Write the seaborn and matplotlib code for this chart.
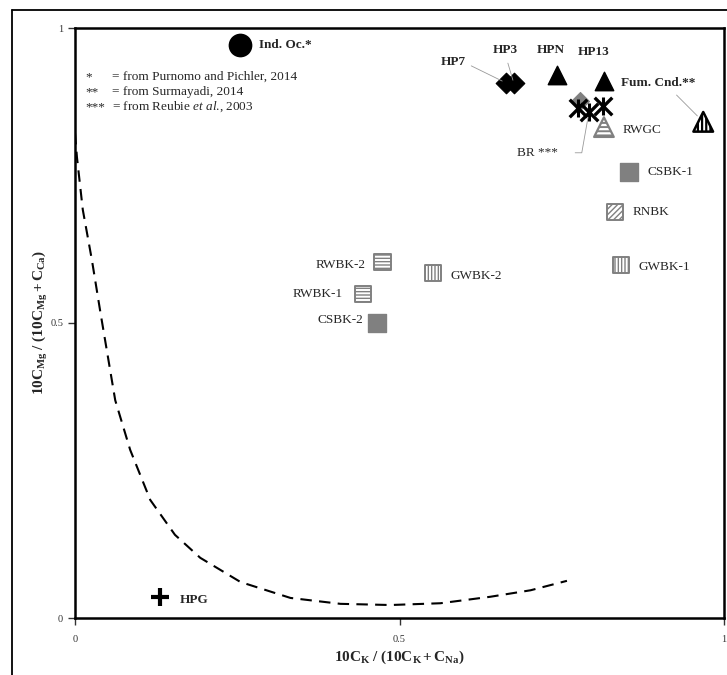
import matplotlib
matplotlib.use("Agg")
import matplotlib.pyplot as plt
import seaborn as sns
import pandas as pd
from matplotlib.lines import Line2D

# ---------------- data ----------------
# samples: name, 10CK/(10CK+CNa), 10CMg/(10CMg+CCa)
ind_oc_x, ind_oc_y = [0.255], [0.971]
hp_diamond_names = ["HP7", "HP3"]
hp_diamond_x = [0.664, 0.676]
hp_diamond_y = [0.907, 0.907]
hp_tri_names = ["HPN", "HP13"]
hp_tri_x = [0.742, 0.815]
hp_tri_y = [0.920, 0.910]
fum_x, fum_y = [0.968], [0.841]
gray_dia_x, gray_dia_y = [0.778], [0.876]
br_x = [0.775, 0.792, 0.813]
br_y = [0.864, 0.858, 0.867]
rwgc_x, rwgc_y = [0.815], [0.832]
csbk_names = ["CSBK-1", "CSBK-2"]
csbk_x = [0.853, 0.466]
csbk_y = [0.756, 0.500]
rnbk_x, rnbk_y = [0.832], [0.688]
gwbk_names = ["GWBK-1", "GWBK-2"]
gwbk_x = [0.841, 0.552]
gwbk_y = [0.598, 0.585]
rwbk_names = ["RWBK-2", "RWBK-1"]
rwbk_x = [0.474, 0.444]
rwbk_y = [0.603, 0.549]
hpg_x, hpg_y = [0.131], [0.036]

# dashed equilibrium curve
curve_x = [0.0, 0.003, 0.012, 0.026, 0.039, 0.062, 0.085, 0.116, 0.154, 0.193,
           0.255, 0.332, 0.409, 0.486, 0.563, 0.640, 0.702, 0.758]
curve_y = [0.822, 0.781, 0.692, 0.607, 0.519, 0.369, 0.285, 0.200, 0.141, 0.102,
           0.061, 0.034, 0.024, 0.022, 0.025, 0.036, 0.047, 0.063]

ticks = [0, 0.5, 1]
tick_labels = ["0", "0.5", "1"]
refs = [("*", "= from Purnomo and Pichler, 2014"),
        ("**", "= from Surmayadi, 2014"),
        ("***", r"= from Reubie $\mathit{et\ al}$., 2003")]

# ---------------- style ----------------
sns.set_style("ticks")
plt.rcParams["font.family"] = ["Liberation Serif", "DejaVu Serif"]
plt.rcParams["mathtext.fontset"] = "custom"
plt.rcParams["mathtext.rm"] = "Liberation Serif"
plt.rcParams["mathtext.it"] = "Liberation Serif:italic"
plt.rcParams["mathtext.bf"] = "Liberation Serif:bold"
plt.rcParams["hatch.linewidth"] = 1.0

W, H = 727, 675
fig = plt.figure(figsize=(W / 100, H / 100), dpi=100)
L, R, T, B = 75, 724, 28, 618
ax = fig.add_axes([L / W, 1 - B / H, (R - L) / W, (B - T) / H])
ax.set_xlim(0, 1)
ax.set_ylim(0, 1)

GRAY = "#808080"

# curve
sns.lineplot(x=curve_x, y=curve_y, sort=False, estimator=None, ax=ax,
             color="black", lw=1.5, linestyle=(0, (5.5, 3.5)))

def sc(x, y, **kw):
    sns.scatterplot(x=x, y=y, ax=ax, legend=False, zorder=3, **kw)

sc(ind_oc_x, ind_oc_y, marker="o", s=250, color="black", edgecolor="black")
sc(hp_diamond_x, hp_diamond_y, marker="D", s=110, color="black", edgecolor="black")
sc(hp_tri_x, hp_tri_y, marker="^", s=175, color="black", edgecolor="black")
plt.rcParams["hatch.linewidth"] = 1.6
sc(fum_x, fum_y, marker="^", s=200, color="white", edgecolor="black",
   linewidth=1.8, hatch="||||")
plt.rcParams["hatch.linewidth"] = 1.0
sc(gray_dia_x, gray_dia_y, marker="D", s=85, color=GRAY, edgecolor=GRAY)
sc(br_x, br_y, marker="x", s=160, color="black", linewidth=2.4)
sc(br_x, br_y, marker="|", s=160, color="black", linewidth=2.2)
plt.rcParams["hatch.linewidth"] = 1.4
sc(rwgc_x, rwgc_y, marker="^", s=200, color="white", edgecolor=GRAY,
   linewidth=1.6, hatch="----")
plt.rcParams["hatch.linewidth"] = 1.0
sc(csbk_x, csbk_y, marker="s", s=150, color=GRAY, edgecolor=GRAY)
sc(rnbk_x, rnbk_y, marker="s", s=140, color="white", edgecolor=GRAY,
   linewidth=1.4, hatch="//////")
sc(gwbk_x, gwbk_y, marker="s", s=140, color="white", edgecolor=GRAY,
   linewidth=1.4, hatch="|||||")
sc(rwbk_x, rwbk_y, marker="s", s=140, color="white", edgecolor=GRAY,
   linewidth=1.4, hatch="-----")
sc(hpg_x, hpg_y, marker="+", s=180, color="black", linewidth=3)

FS = 9.5
P = 0.72  # px -> points

def lab(text, xy, dx, dy, ha="left", bold=False, line=None, conn=None):
    ap = None
    if line is not None:
        ap = dict(arrowstyle="-", color="#999999", lw=0.6, shrinkA=line[0],
                  shrinkB=line[1], relpos=line[2])
        if conn:
            ap["connectionstyle"] = conn
    ax.annotate(text, xy=xy, xytext=(dx * P, -dy * P), textcoords="offset points",
                ha=ha, va="center", fontsize=FS,
                fontweight="bold" if bold else "normal", arrowprops=ap, zorder=4)

lab("Ind. Oc.*", (ind_oc_x[0], ind_oc_y[0]), 19, 0, bold=True)
lab(hp_diamond_names[0], (hp_diamond_x[0], hp_diamond_y[0]), -53, -21, ha="center",
    bold=True, line=(2, 3, (1.1, 0.3)))
lab(hp_diamond_names[1], (hp_diamond_x[1], hp_diamond_y[1]), -8, -33, ha="center",
    bold=True, line=(3, 2, (0.5, 0)))
lab(hp_tri_names[0], (hp_tri_x[0], hp_tri_y[0]), -6, -25, ha="center", bold=True)
lab(hp_tri_names[1], (hp_tri_x[1], hp_tri_y[1]), -10, -29, ha="center", bold=True)
lab("Fum. Cnd.**", (fum_x[0], fum_y[0]), -82, -39, bold=True,
    line=(3, 6, (0.66, 0)))
lab("RWGC", (rwgc_x[0], rwgc_y[0]), 19, 3)
lab("BR ***", (br_x[1], br_y[1]), -31, 41, ha="right", line=(10, 4, (1, 0.5)),
    conn="angle,angleA=0,angleB=80,rad=0")
lab(csbk_names[0], (csbk_x[0], csbk_y[0]), 19, 0)
lab(csbk_names[1], (csbk_x[1], csbk_y[1]), -14, -3, ha="right")
lab("RNBK", (rnbk_x[0], rnbk_y[0]), 18, 0)
lab(gwbk_names[0], (gwbk_x[0], gwbk_y[0]), 18, 2)
lab(gwbk_names[1], (gwbk_x[1], gwbk_y[1]), 17, 3)
lab(rwbk_names[0], (rwbk_x[0], rwbk_y[0]), -17, 3, ha="right")
lab(rwbk_names[1], (rwbk_x[1], rwbk_y[1]), -20, 0, ha="right")
lab("HPG", (hpg_x[0], hpg_y[0]), 20, 3, bold=True)

# reference notes
for i, (star, txt) in enumerate(refs):
    py = 77 + i * 15
    ay = (B - py) / (B - T)
    ax.text((85 - L) / (R - L), ay, star, transform=ax.transAxes, fontsize=FS,
            va="center", ha="left")
    ax.text((112 - L) / (R - L), ay, txt, transform=ax.transAxes, fontsize=FS,
            va="center", ha="left")

# axes styling
for s in ax.spines.values():
    s.set_linewidth(1.8)
    s.set_color("black")
ax.set_xticks(ticks)
ax.set_xticklabels(tick_labels)
ax.set_yticks(ticks)
ax.set_yticklabels(tick_labels)
ax.tick_params(direction="out", length=5, width=1, labelsize=7.5, colors="#333333")
ax.tick_params(axis="x", pad=7)

ax.set_xlabel(r"$\mathbf{10C_{K}\ /\ (10C_{K} + C_{Na})}$", fontsize=11)
ax.set_ylabel(r"$\mathbf{10C_{Mg}\ /\ (10C_{Mg} + C_{Ca})}$", fontsize=11)
ax.xaxis.set_label_coords(0.5, -(657 - B) / (B - T))
ax.xaxis.label.set_va("center")
ax.yaxis.set_label_coords(-(L - 40) / (R - L), 0.5)
ax.yaxis.label.set_va("center")

# outer frame
fig.add_artist(Line2D([12 / W, 1.0], [1 - 10 / H, 1 - 10 / H], transform=fig.transFigure,
                      color="black", lw=1.3))
fig.add_artist(Line2D([12 / W, 12 / W], [0, 1 - 10 / H], transform=fig.transFigure,
                      color="black", lw=1.3))

fig.savefig("out.png", dpi=100)
